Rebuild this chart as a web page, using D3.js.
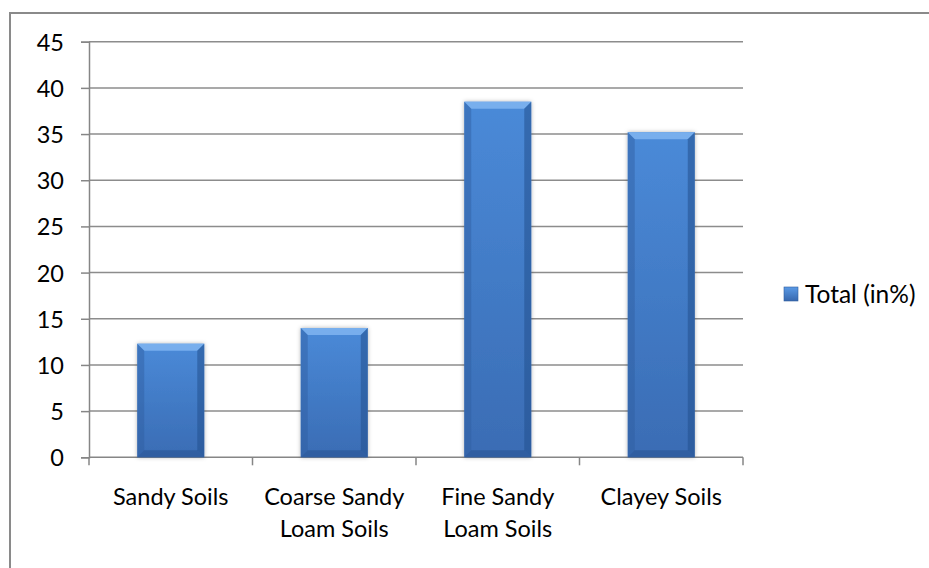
<!DOCTYPE html>
<html lang="en">
<head>
<meta charset="utf-8">
<title>Soils</title>
<script src="https://cdn.jsdelivr.net/npm/d3@7"></script>
<style>
  body { margin: 0; background: #fff; }
  text { font-family: Lato, "Open Sans", sans-serif; fill: #000; }
</style>
</head>
<body>
<div id="chart"></div>
<script>
var categories = [["Sandy Soils"], ["Coarse Sandy", "Loam Soils"], ["Fine Sandy", "Loam Soils"], ["Clayey Soils"]];
var values = [12.3, 14.0, 38.5, 35.2];
var yTicks = [0, 5, 10, 15, 20, 25, 30, 35, 40, 45];
var seriesName = "Total (in%)";

var W = 929, H = 568;
var svg = d3.select("#chart").append("svg").attr("width", W).attr("height", H);

var defs = svg.append("defs");
var grad = defs.append("linearGradient").attr("id", "barFill").attr("x1", 0).attr("y1", 0).attr("x2", 0).attr("y2", 1);
grad.append("stop").attr("offset", "0%").attr("stop-color", "#4a8ad8");
grad.append("stop").attr("offset", "100%").attr("stop-color", "#3a6cb4");
var lg = defs.append("linearGradient").attr("id", "legFill").attr("x1", 0).attr("y1", 0).attr("x2", 0).attr("y2", 1);
lg.append("stop").attr("offset", "0%").attr("stop-color", "#5a9ae6");
lg.append("stop").attr("offset", "100%").attr("stop-color", "#3768ae");
var sh = defs.append("filter").attr("id", "shadow").attr("x", "-20%").attr("y", "-5%").attr("width", "140%").attr("height", "110%");
sh.append("feDropShadow").attr("dx", 0).attr("dy", 0).attr("stdDeviation", 2).attr("flood-color", "#000").attr("flood-opacity", 0.3);

// outer chart frame (only left/top are visible in the window)
svg.append("rect").attr("x", 10).attr("y", 13).attr("width", 940).attr("height", 600)
  .attr("fill", "none").attr("stroke", "#8a8a8a").attr("stroke-width", 2);

var x = d3.scaleBand().domain(d3.range(categories.length)).range([89, 743]).paddingInner(0).paddingOuter(0);
var y = d3.scaleLinear().domain([0, 45]).range([457.3, 41.7]);

// grid
svg.append("g").selectAll("line").data(yTicks.filter(function (d) { return d > 0; })).enter().append("line")
  .attr("x1", 89).attr("x2", 743)
  .attr("y1", function (d) { return y(d); }).attr("y2", function (d) { return y(d); })
  .attr("stroke", "#8c8c8c").attr("stroke-width", 1.5);

// y axis
var yAxis = svg.append("g").attr("transform", "translate(89,0)")
  .call(d3.axisLeft(y).tickValues(yTicks).tickSize(8).tickPadding(17));
yAxis.select(".domain").attr("stroke", "#868686").attr("stroke-width", 1.5);
yAxis.selectAll(".tick line").attr("stroke", "#868686").attr("stroke-width", 1.5);
yAxis.selectAll("text").style("font-size", "23.5px").attr("fill", "#000").attr("dy", "0.36em");

// x axis
var xAxis = svg.append("g").attr("transform", "translate(0," + y(0) + ")");
xAxis.append("line").attr("x1", 89).attr("x2", 743).attr("stroke", "#868686").attr("stroke-width", 1.5);
xAxis.selectAll("line.tk").data(d3.range(categories.length + 1)).enter().append("line")
  .attr("class", "tk")
  .attr("x1", function (i) { return 89 + i * x.bandwidth(); })
  .attr("x2", function (i) { return 89 + i * x.bandwidth(); })
  .attr("y1", 0).attr("y2", 8).attr("stroke", "#868686").attr("stroke-width", 1.5);

var lbl = xAxis.selectAll("text.cat").data(categories).enter().append("text")
  .attr("class", "cat")
  .attr("text-anchor", "middle")
  .style("font-size", "23.5px")
  .attr("x", function (d, i) { return x(i) + x.bandwidth() / 2; })
  .attr("y", 48);
lbl.selectAll("tspan").data(function (d) { return d; }).enter().append("tspan")
  .attr("x", function () { return d3.select(this.parentNode).attr("x"); })
  .attr("dy", function (d, j) { return j === 0 ? 0 : 32; })
  .text(function (d) { return d; });

// bars
var bw = x.bandwidth() * 0.41;
var bev = 7;
var bars = svg.append("g").selectAll("g.bar").data(values).enter().append("g").attr("class", "bar")
  .attr("transform", function (d, i) { return "translate(" + (x(i) + (x.bandwidth() - bw) / 2) + "," + y(d) + ")"; });
bars.append("rect").attr("width", bw).attr("height", function (d) { return y(0) - y(d); })
  .attr("fill", "url(#barFill)").attr("filter", "url(#shadow)");
bars.each(function (d) {
  var g = d3.select(this), h = y(0) - y(d);
  g.append("polygon").attr("points", [[0, 0], [bw, 0], [bw - bev, bev], [bev, bev]].join(" ")).attr("fill", "#7db3f0").attr("opacity", 0.9);
  g.append("polygon").attr("points", [[0, 0], [bev, bev], [bev, h - bev], [0, h]].join(" ")).attr("fill", "#2f5e9f").attr("opacity", 0.45);
  g.append("polygon").attr("points", [[bw, 0], [bw - bev, bev], [bw - bev, h - bev], [bw, h]].join(" ")).attr("fill", "#23508e").attr("opacity", 0.55);
  g.append("polygon").attr("points", [[0, h], [bev, h - bev], [bw - bev, h - bev], [bw, h]].join(" ")).attr("fill", "#2a5595").attr("opacity", 0.6);
});

// legend
var leg = svg.append("g").attr("transform", "translate(784,287)");
leg.append("rect").attr("width", 14).attr("height", 14).attr("fill", "url(#legFill)").attr("stroke", "#2f5e9f").attr("stroke-width", 0.6);
leg.append("text").attr("x", 21).attr("y", 7).attr("dy", "0.36em").style("font-size", "24.5px").text(seriesName);
</script>
</body>
</html>
